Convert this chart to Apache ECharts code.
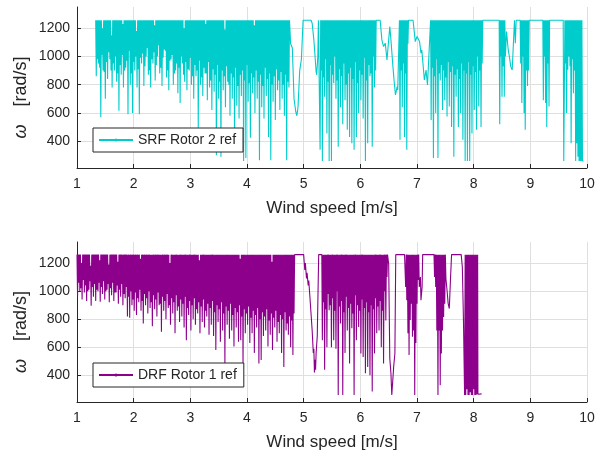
<!DOCTYPE html>
<html><head><meta charset="utf-8">
<script src="https://cdn.jsdelivr.net/npm/echarts@6/dist/echarts.min.js"></script>
<style>html,body{margin:0;padding:0;background:#fff}#c{width:606px;height:456px}</style>
</head><body><div id="c"></div>
<script>
const srfName = 'SRF Rotor 2 ref';
const drfName = 'DRF Rotor 1 ref';
const xLabel = 'Wind speed [m/s]';
const yLabel = '{w|ω}  [rad/s]';

// [wind speed, omega]
const srfData = [
[1.33,1256],[1.34,860],[1.35,1256],[1.36,980],[1.37,1256],[1.38,950],[1.39,1256],[1.40,920],[1.41,1256],[1.42,570],
[1.43,1256],[1.44,1010],[1.45,1200],[1.46,900],[1.47,1256],[1.48,890],[1.49,1256],[1.50,700],[1.51,1256],[1.52,960],
[1.53,1256],[1.54,840],[1.55,1256],[1.56,1030],[1.57,1256],[1.58,980],[1.59,1256],[1.60,900],[1.61,1150],[1.62,780],
[1.63,1256],[1.64,950],[1.65,1256],[1.66,900],[1.67,1256],[1.68,1000],[1.69,1256],[1.70,820],[1.71,1256],[1.72,880],
[1.73,1256],[1.74,615],[1.75,1256],[1.76,940],[1.77,1256],[1.78,870],[1.79,1256],[1.80,1010],[1.81,1230],[1.82,780],
[1.83,1256],[1.84,900],[1.85,1256],[1.86,920],[1.87,1256],[1.88,970],[1.89,1256],[1.90,590],[1.91,1256],[1.92,1040],
[1.93,1256],[1.94,800],[1.95,1256],[1.96,880],[1.97,1256],[1.98,600],[1.99,1256],[2.00,960],[2.01,1256],[2.02,900],
[2.03,1256],[2.04,1000],[2.05,1180],[2.06,780],[2.07,1256],[2.08,910],[2.09,1256],[2.10,590],[2.11,1256],[2.12,990],
[2.13,1256],[2.14,950],[2.15,1256],[2.16,1020],[2.17,1256],[2.18,790],[2.19,1256],[2.20,930],[2.21,1256],[2.22,1000],
[2.23,1256],[2.24,1060],[2.25,1256],[2.26,870],[2.27,1256],[2.28,900],[2.29,1256],[2.30,780],[2.31,1256],[2.32,980],
[2.33,1256],[2.34,950],[2.35,1256],[2.36,1030],[2.37,1220],[2.38,830],[2.39,1256],[2.40,940],[2.41,1256],[2.42,1000],
[2.43,1256],[2.44,1080],[2.45,1256],[2.46,880],[2.47,1256],[2.48,920],[2.49,1256],[2.50,790],[2.51,1256],[2.52,990],
[2.53,1256],[2.54,1050],[2.55,1256],[2.56,1040],[2.57,1256],[2.58,850],[2.59,1256],[2.60,900],[2.61,1256],[2.62,760],
[2.63,1256],[2.64,970],[2.65,1256],[2.66,980],[2.67,1256],[2.68,1010],[2.69,1256],[2.70,800],[2.71,1256],[2.72,880],
[2.73,1256],[2.74,900],[2.75,1256],[2.76,950],[2.77,1256],[2.78,740],[2.79,1256],[2.80,920],[2.81,1256],[2.82,670],
[2.83,1256],[2.84,1000],[2.85,1256],[2.86,950],[2.87,1256],[2.88,870],[2.89,1200],[2.90,820],[2.91,1256],[2.92,960],
[2.93,1256],[2.94,760],[2.95,1256],[2.96,910],[2.97,1256],[2.98,900],[2.99,1256],[3.00,990],[3.01,1256],[3.02,800],
[3.03,1256],[3.04,860],[3.05,1256],[3.06,700],[3.07,1256],[3.08,940],[3.09,1256],[3.10,860],[3.11,1256],[3.12,900],
[3.13,1256],[3.14,495],[3.15,1256],[3.16,970],[3.17,1256],[3.18,800],[3.19,1256],[3.20,850],[3.21,1256],[3.22,720],
[3.23,1256],[3.24,920],[3.25,1256],[3.26,880],[3.27,1230],[3.28,880],[3.29,1256],[3.30,690],[3.31,1256],[3.32,960],
[3.33,1256],[3.34,780],[3.35,1256],[3.36,830],[3.37,1256],[3.38,620],[3.39,1256],[3.40,910],[3.41,1256],[3.42,750],
[3.43,1256],[3.44,870],[3.45,1256],[3.46,300],[3.47,1256],[3.48,940],[3.49,1256],[3.50,700],[3.51,1256],[3.52,820],
[3.53,1256],[3.54,290],[3.55,1256],[3.56,900],[3.57,1256],[3.58,760],[3.59,1256],[3.60,860],[3.61,1190],[3.62,640],
[3.63,1256],[3.64,930],[3.65,1256],[3.66,820],[3.67,1256],[3.68,800],[3.69,1256],[3.70,580],[3.71,1256],[3.72,880],
[3.73,1256],[3.74,700],[3.75,1256],[3.76,850],[3.77,1256],[3.78,430],[3.79,1256],[3.80,920],[3.81,1256],[3.82,650],
[3.83,1256],[3.84,790],[3.85,1256],[3.86,560],[3.87,1256],[3.88,870],[3.89,1256],[3.90,720],[3.91,1256],[3.92,900],
[3.93,1256],[3.94,260],[3.95,1256],[3.96,830],[3.97,1256],[3.98,280],[3.99,1256],[4.00,940],[4.01,1256],[4.02,680],
[4.03,1256],[4.04,810],[4.05,1256],[4.06,425],[4.07,1256],[4.08,880],[4.09,1256],[4.10,740],[4.11,1256],[4.12,850],
[4.13,1220],[4.14,600],[4.15,1256],[4.16,900],[4.17,1256],[4.18,700],[4.19,1256],[4.20,820],[4.21,1256],[4.22,265],
[4.23,1256],[4.24,870],[4.25,1256],[4.26,640],[4.27,1256],[4.28,790],[4.29,1256],[4.30,560],[4.31,1256],[4.32,920],
[4.33,1256],[4.34,720],[4.35,1256],[4.36,840],[4.37,1256],[4.38,430],[4.39,1256],[4.40,880],[4.41,1256],[4.42,265],
[4.43,1256],[4.44,800],[4.45,1256],[4.46,680],[4.47,1256],[4.48,860],[4.49,1256],[4.50,550],[4.51,1256],[4.52,910],
[4.53,1256],[4.54,760],[4.55,1256],[4.56,830],[4.57,1256],[4.58,620],[4.59,1256],[4.60,890],[4.61,1256],[4.62,700],
[4.63,1256],[4.64,800],[4.65,1256],[4.66,580],[4.67,1256],[4.68,870],[4.69,1256],[4.70,265],[4.71,1256],[4.72,820],
[4.73,1256],[4.74,780],[4.75,1256],[4.77,1090],[4.80,1060],[4.83,700],[4.86,610],[4.88,580],[4.90,640],[4.93,900],
[4.96,980],[4.99,1256],[5.13,1256],[5.15,1235],[5.18,1117],[5.21,950],[5.22,890],[5.23,870],[5.25,1000],[5.26,1256],
[5.28,1256],[5.29,340],[5.30,1256],[5.31,900],[5.32,1256],[5.33,260],[5.34,1256],[5.35,850],[5.36,1256],[5.37,715],
[5.38,1256],[5.39,980],[5.40,1256],[5.41,455],[5.42,1256],[5.43,820],[5.44,1256],[5.45,260],[5.46,1256],[5.47,940],
[5.48,1256],[5.49,260],[5.50,1256],[5.51,870],[5.52,1256],[5.53,810],[5.54,1256],[5.55,1000],[5.56,1256],[5.57,700],
[5.58,1256],[5.59,830],[5.60,1256],[5.61,360],[5.62,1256],[5.63,910],[5.64,1256],[5.65,640],[5.66,1256],[5.67,860],
[5.68,1256],[5.69,520],[5.70,1256],[5.71,950],[5.72,1256],[5.73,690],[5.74,1256],[5.75,800],[5.76,1256],[5.77,480],
[5.78,1256],[5.79,880],[5.80,1256],[5.81,430],[5.82,1256],[5.83,920],[5.84,1256],[5.85,385],[5.86,1256],[5.87,840],
[5.88,1256],[5.89,340],[5.90,1256],[5.91,960],[5.92,1256],[5.93,430],[5.94,1256],[5.95,810],[5.96,1256],[5.97,600],
[5.98,1256],[5.99,900],[6.00,1256],[6.01,690],[6.02,1256],[6.03,870],[6.04,1256],[6.05,560],[6.06,1256],[6.07,990],
[6.08,1256],[6.09,260],[6.10,1256],[6.11,830],[6.12,1256],[6.13,385],[6.14,1256],[6.15,940],[6.16,1256],[6.17,860],
[6.18,1256],[6.19,880],[6.20,1256],[6.21,360],[6.22,1256],[6.23,1000],[6.24,1256],[6.25,780],[6.26,1256],[6.27,900],
[6.28,1256],[6.35,1256],[6.38,1117],[6.41,1070],[6.44,1094],[6.47,975],[6.48,964],[6.52,1212],[6.54,1117],[6.575,928],
[6.60,810],[6.62,727],[6.65,786],[6.66,763],[6.69,1256],[6.70,410],[6.71,1256],[6.72,900],[6.73,1256],[6.74,640],
[6.75,1256],[6.76,950],[6.77,1256],[6.78,430],[6.79,1256],[6.80,880],[6.81,1256],[6.82,340],[6.83,1256],[6.84,1090],
[6.85,1256],[6.93,1256],[6.97,1105],[7.00,1141],[7.03,1129],[7.045,1105],
[7.07,1023],[7.085,1046],[7.115,904],[7.13,834],[7.16,904],[7.185,798],[7.24,1256],
[7.25,550],[7.26,1256],[7.27,920],[7.28,1256],[7.29,280],[7.30,1256],[7.31,860],[7.32,1256],[7.33,600],[7.34,1256],
[7.35,980],[7.36,1256],[7.37,280],[7.38,1256],[7.39,880],[7.40,1256],[7.41,830],[7.42,1256],[7.43,940],[7.44,1256],
[7.45,620],[7.46,1256],[7.47,900],[7.48,1256],[7.49,690],[7.50,1256],[7.51,850],[7.52,1256],[7.53,575],[7.54,1256],
[7.55,960],[7.56,1256],[7.57,645],[7.58,1256],[7.59,890],[7.60,1256],[7.61,500],[7.62,1256],[7.63,930],[7.64,1256],
[7.65,290],[7.66,1256],[7.67,870],[7.68,1256],[7.69,715],[7.70,1256],[7.71,910],[7.72,1256],[7.73,500],[7.74,1256],
[7.75,840],[7.76,1256],[7.77,600],[7.78,1256],[7.79,950],[7.80,1256],[7.81,410],[7.82,1256],[7.83,900],[7.84,1256],
[7.85,260],[7.86,1256],[7.87,880],[7.88,1256],[7.89,260],[7.90,1256],[7.91,960],[7.92,1256],[7.93,260],[7.94,1256],
[7.95,870],[7.96,1256],[7.97,455],[7.98,1256],[7.99,930],[8.00,1256],[8.01,620],[8.02,1256],[8.03,890],[8.04,1256],
[8.05,480],[8.06,1256],[8.07,1000],[8.08,1256],[8.09,645],[8.10,1256],[8.11,900],[8.12,1256],[8.13,500],[8.14,1256],
[8.15,950],[8.16,1256],[8.45,1256],
[8.46,520],[8.47,1256],[8.48,1000],[8.49,1256],[8.50,715],[8.51,1256],[8.52,930],[8.53,1256],[8.54,715],[8.55,1256],
[8.56,1000],[8.58,1176],[8.61,1046],[8.63,1000],[8.655,928],[8.68,904],[8.70,916],[8.72,1256],[8.735,1094],[8.75,1256],
[8.82,1256],[8.83,950],[8.84,1256],[8.85,670],[8.86,1256],[8.87,1000],[8.88,1256],[8.89,600],[8.90,1256],[8.91,480],
[8.92,1256],[8.93,900],[8.94,1256],[8.95,790],[8.96,1256],[8.97,900],[8.98,1256],[9.22,1256],[9.23,690],[9.24,1256],
[9.25,1000],[9.26,1256],[9.27,670],[9.28,1256],[9.29,500],[9.30,1256],[9.31,950],[9.32,1256],[9.33,645],[9.34,1256],
[9.58,1256],[9.59,260],[9.60,260],[9.61,1256],[9.62,950],[9.63,1256],[9.64,600],[9.65,1256],[9.66,905],[9.67,1256],
[9.68,1000],[9.69,1256],[9.70,930],[9.71,1256],[9.72,385],[9.73,1256],[9.74,980],[9.75,1256],[9.76,740],[9.77,1256],
[9.78,900],[9.79,1256],[9.80,260],[9.81,1256],[9.82,385],[9.83,1256],[9.84,290],[9.85,1256],[9.86,260],[9.87,1256],
[9.88,260],[9.89,1256],[9.90,260],[9.91,1256],[9.92,260],[9.94,260]
];

const drfData = [
[1.00,1260],[1.01,960],[1.02,1260],[1.03,1060],[1.04,1260],[1.05,1000],[1.06,1260],[1.07,1020],[1.08,1200],[1.09,940],
[1.10,1260],[1.11,1080],[1.12,1260],[1.13,990],[1.14,1260],[1.15,1040],[1.16,1260],[1.17,930],[1.18,1260],[1.19,1000],
[1.20,1260],[1.21,1010],[1.22,1260],[1.23,1070],[1.24,1180],[1.25,895],[1.26,1260],[1.27,1030],[1.28,1260],[1.29,960],
[1.30,1260],[1.31,1050],[1.32,1260],[1.33,930],[1.34,1260],[1.35,1010],[1.36,1260],[1.37,1000],[1.38,1260],[1.39,1060],
[1.40,1220],[1.41,925],[1.42,1260],[1.43,1030],[1.44,1260],[1.45,980],[1.46,1260],[1.47,1070],[1.48,1260],[1.49,940],
[1.50,1260],[1.51,1000],[1.52,1260],[1.53,1010],[1.54,1260],[1.55,1050],[1.56,1190],[1.57,920],[1.58,1260],[1.59,1020],
[1.60,1260],[1.61,970],[1.62,1260],[1.63,1060],[1.64,1260],[1.65,930],[1.66,1260],[1.67,990],[1.68,1260],[1.69,990],
[1.70,1260],[1.71,1040],[1.72,1210],[1.73,910],[1.74,1260],[1.75,1010],[1.76,1260],[1.77,960],[1.78,1260],[1.79,1050],
[1.80,1260],[1.81,900],[1.82,1260],[1.83,980],[1.84,1260],[1.85,950],[1.86,1260],[1.87,1030],[1.88,1260],[1.89,820],
[1.90,1260],[1.91,960],[1.92,1260],[1.93,810],[1.94,1260],[1.95,1000],[1.96,1260],[1.97,900],[1.98,1260],[1.99,940],
[2.00,1260],[2.01,860],[2.02,1260],[2.03,990],[2.04,1260],[2.05,830],[2.06,1260],[2.07,950],[2.08,1260],[2.09,920],
[2.10,1260],[2.11,1010],[2.12,1230],[2.13,860],[2.14,1260],[2.15,930],[2.16,1260],[2.17,770],[2.18,1260],[2.19,980],
[2.20,1260],[2.21,900],[2.22,1260],[2.23,950],[2.24,1260],[2.25,840],[2.26,1260],[2.27,1000],[2.28,1260],[2.29,880],
[2.30,1260],[2.31,920],[2.32,1260],[2.33,750],[2.34,1260],[2.35,970],[2.36,1260],[2.37,870],[2.38,1260],[2.39,940],
[2.40,1260],[2.41,820],[2.42,1260],[2.43,990],[2.44,1260],[2.45,900],[2.46,1260],[2.47,910],[2.48,1260],[2.49,710],
[2.50,1260],[2.51,960],[2.52,1260],[2.53,860],[2.54,1260],[2.55,930],[2.56,1260],[2.57,800],[2.58,1260],[2.59,980],
[2.60,1260],[2.61,880],[2.62,1260],[2.63,900],[2.64,1200],[2.65,760],[2.66,1260],[2.67,950],[2.68,1260],[2.69,840],
[2.70,1260],[2.71,920],[2.72,1260],[2.73,700],[2.74,1260],[2.75,970],[2.76,1260],[2.77,860],[2.78,1260],[2.79,890],
[2.80,1260],[2.81,780],[2.82,1260],[2.83,940],[2.84,1260],[2.85,820],[2.86,1260],[2.87,910],[2.88,1260],[2.89,740],
[2.90,1260],[2.91,960],[2.92,1260],[2.93,650],[2.94,1260],[2.95,880],[2.96,1260],[2.97,830],[2.98,1260],[2.99,930],
[3.00,1260],[3.01,720],[3.02,1260],[3.03,900],[3.04,1260],[3.05,800],[3.06,1260],[3.07,950],[3.08,1260],[3.09,760],
[3.10,1260],[3.11,870],[3.12,1260],[3.13,840],[3.14,1260],[3.15,920],[3.16,1220],[3.17,700],[3.18,1260],[3.19,890],
[3.20,1260],[3.21,780],[3.22,1260],[3.23,940],[3.24,1260],[3.25,740],[3.26,1260],[3.27,860],[3.28,1260],[3.29,820],
[3.30,1260],[3.31,910],[3.32,1260],[3.33,690],[3.34,1260],[3.35,880],[3.36,1260],[3.37,760],[3.38,1260],[3.39,930],
[3.40,1260],[3.41,680],[3.42,1260],[3.43,850],[3.44,1260],[3.45,580],[3.46,1260],[3.47,900],[3.48,1260],[3.49,780],
[3.50,1260],[3.51,870],[3.52,1260],[3.53,640],[3.54,1260],[3.55,920],[3.56,1260],[3.57,720],[3.58,1260],[3.59,840],
[3.60,1260],[3.61,485],[3.62,1260],[3.63,890],[3.64,1260],[3.65,760],[3.66,1260],[3.67,860],[3.68,1260],[3.69,660],
[3.70,1260],[3.71,910],[3.72,1260],[3.73,720],[3.74,1260],[3.75,830],[3.76,1260],[3.77,605],[3.78,1260],[3.79,880],
[3.80,1260],[3.81,740],[3.82,1260],[3.83,850],[3.84,1260],[3.85,640],[3.86,1260],[3.87,900],[3.88,1230],[3.89,650],
[3.90,1260],[3.91,820],[3.92,1260],[3.93,485],[3.94,1260],[3.95,870],[3.96,1260],[3.97,700],[3.98,1260],[3.99,840],
[4.00,1260],[4.01,760],[4.02,1260],[4.03,890],[4.04,1260],[4.05,630],[4.06,1260],[4.07,810],[4.08,1260],[4.09,700],
[4.10,1260],[4.11,860],[4.12,1260],[4.13,560],[4.14,1260],[4.15,830],[4.16,1260],[4.17,740],[4.18,1260],[4.19,880],
[4.20,1260],[4.21,485],[4.22,1260],[4.23,800],[4.24,1260],[4.25,510],[4.26,1260],[4.27,850],[4.28,1260],[4.29,680],
[4.30,1260],[4.31,820],[4.32,1260],[4.33,720],[4.34,1260],[4.35,870],[4.36,1260],[4.37,605],[4.38,1260],[4.39,790],
[4.40,1260],[4.41,690],[4.42,1260],[4.43,840],[4.44,1210],[4.45,580],[4.46,1260],[4.47,810],[4.48,1260],[4.49,740],
[4.50,1260],[4.51,860],[4.52,1260],[4.53,640],[4.54,1260],[4.55,780],[4.56,1260],[4.57,700],[4.58,1260],[4.59,830],
[4.60,1260],[4.61,560],[4.62,1260],[4.63,800],[4.64,1260],[4.65,460],[4.66,1260],[4.67,850],[4.68,1260],[4.69,720],
[4.70,1260],[4.71,770],[4.72,1260],[4.73,690],[4.74,1260],[4.75,820],[4.76,1260],[4.77,600],[4.78,1260],[4.79,790],
[4.80,1260],[4.81,545],[4.82,1260],[4.83,840],[4.84,1260],[5.00,1260],[5.02,1150],[5.03,1200],[5.05,1090],[5.06,1130],
[5.08,1040],[5.09,1075],[5.11,960],[5.13,840],[5.15,720],[5.17,560],[5.18,590],[5.19,420],[5.20,510],[5.21,440],
[5.22,560],[5.24,680],[5.265,1260],
[5.32,1260],[5.33,650],[5.34,1260],[5.35,920],[5.36,1260],[5.37,440],[5.38,1260],[5.39,870],[5.40,1260],[5.41,600],
[5.42,1260],[5.43,980],[5.44,1260],[5.45,864],[5.46,1260],[5.47,900],[5.48,1260],[5.49,600],[5.50,1260],[5.51,950],
[5.52,1260],[5.53,650],[5.54,1260],[5.55,860],[5.56,1260],[5.57,590],[5.58,1260],[5.59,1000],[5.60,1260],[5.61,260],
[5.62,1260],[5.63,890],[5.64,1260],[5.65,770],[5.66,1260],[5.67,930],[5.68,1260],[5.69,260],[5.70,1260],[5.71,850],
[5.72,1260],[5.73,560],[5.74,1260],[5.75,960],[5.76,1260],[5.77,720],[5.78,1260],[5.79,880],[5.80,1260],[5.81,485],
[5.82,1260],[5.83,910],[5.84,1260],[5.85,735],[5.86,1260],[5.87,840],[5.88,1260],[5.89,260],[5.90,1260],[5.91,970],
[5.92,1260],[5.93,650],[5.94,1260],[5.95,900],[5.96,1260],[5.97,745],[5.98,1260],[5.99,860],[6.00,1260],[6.01,556],
[6.02,1260],[6.03,940],[6.04,1260],[6.05,530],[6.06,1260],[6.07,880],[6.08,1260],[6.09,415],[6.10,1260],[6.11,920],
[6.12,1260],[6.13,460],[6.14,1260],[6.15,850],[6.16,1260],[6.17,400],[6.18,1260],[6.19,900],[6.20,1260],[6.21,285],
[6.22,1260],[6.23,870],[6.24,1260],[6.25,556],[6.26,1260],[6.27,950],[6.28,1260],[6.29,700],[6.30,1260],[6.31,890],
[6.32,1260],[6.33,720],[6.34,1260],[6.35,930],[6.36,1260],[6.37,600],[6.38,1260],[6.39,860],[6.40,1260],[6.41,485],
[6.42,1260],[6.43,1000],[6.44,1260],[6.45,790],[6.46,1260],[6.47,1100],[6.48,1260],[6.50,1195],[6.52,520],[6.54,415],
[6.555,260],[6.575,260],[6.59,470],[6.61,556],[6.625,1260],[6.78,1260],
[6.80,1030],[6.81,1260],[6.82,935],[6.83,1260],[6.84,700],[6.85,1260],[6.86,545],[6.87,1260],[6.88,795],[6.89,1260],
[6.90,910],[6.91,1260],[6.92,675],[6.93,1260],[6.94,720],[6.95,1260],[6.96,260],[6.97,1260],[6.98,630],[6.99,1260],
[7.00,910],[7.01,1260],[7.02,1080],[7.03,1260],[7.04,1030],[7.06,1100],[7.07,935],[7.09,1030],[7.10,1260],[7.30,1260],
[7.31,1100],[7.32,1260],[7.33,1030],[7.34,1260],[7.35,720],[7.36,1260],[7.37,260],[7.38,1260],[7.39,720],[7.40,1260],
[7.41,330],[7.42,1260],[7.43,556],[7.44,1260],[7.45,720],[7.46,1260],[7.47,816],[7.48,1260],[7.49,910],[7.50,1260],
[7.51,1090],[7.53,1006],[7.55,911],[7.57,876],[7.59,1077],[7.61,1260],[7.78,1260],
[7.80,1172],[7.82,793],[7.84,260],[7.85,1260],[7.86,260],[7.87,1260],[7.88,300],[7.89,1260],[7.90,260],[7.91,1260],
[7.92,260],[7.93,1260],[7.94,280],[7.95,1260],[7.96,260],[7.97,1260],[7.98,260],[7.99,1260],[8.00,300],[8.01,1260],
[8.02,260],[8.03,1260],[8.04,260],[8.05,1260],[8.06,265],[8.07,1260],[8.075,265],[8.11,270],[8.14,268]
];

const FONT = '"Liberation Sans", Arial, Helvetica, sans-serif';
const AX = '#262626';
const GRIDC = '#DFDFDF';
const LW = 1.1;

function xAxisCfg(i) {
  return {
    gridIndex: i, type: 'value', min: 1, max: 10, interval: 1,
    name: xLabel, nameLocation: 'middle', nameGap: 32,
    nameTextStyle: { fontSize: 17, color: AX, fontFamily: FONT },
    axisLine: { show: true, onZero: false, lineStyle: { color: AX, width: 1 } },
    axisTick: { show: true, inside: true, length: 4, lineStyle: { color: AX } },
    axisLabel: { color: AX, fontSize: 14, margin: 9, fontFamily: FONT },
    splitLine: { show: true, lineStyle: { color: GRIDC, width: 1 } }
  };
}
function yAxisCfg(i) {
  return {
    gridIndex: i, type: 'value', min: 210, max: 1350, splitNumber: 5,
    name: yLabel, nameLocation: 'middle', nameGap: 47, nameRotate: 90, nameMoveOverlap: false,
    nameTextStyle: { fontSize: 18, color: AX, fontFamily: FONT, padding: [0, 20, 0, 0],
      rich: { w: { fontSize: 18, fontStyle: 'italic', color: AX, fontFamily: FONT, padding: [0, 8, 0, 0] } } },
    axisLine: { show: true, lineStyle: { color: AX, width: 1 } },
    axisTick: { show: true, inside: true, length: 4, lineStyle: { color: AX } },
    axisLabel: { color: AX, fontSize: 14, margin: 7, fontFamily: FONT, showMinLabel: false, showMaxLabel: false,
      formatter: function (v) { return String(v); } },
    splitLine: { show: true, showMaxLine: false, showMinLine: false, lineStyle: { color: GRIDC, width: 1 } }
  };
}
function legendCfg(name, top) {
  return {
    data: [name], left: 93, top: top, padding: [5, 7, 5, 5],
    itemWidth: 34, itemHeight: 4, selectedMode: false,
    borderColor: AX, borderWidth: 1, backgroundColor: '#ffffff', z: 20,
    textStyle: { fontSize: 14, color: AX, fontFamily: FONT }
  };
}

const chart = echarts.init(document.getElementById('c'), null, { renderer: 'canvas' });
chart.setOption({
  animation: false,
  backgroundColor: '#ffffff',
  textStyle: { fontFamily: FONT },
  grid: [
    { left: 77, top: 7, width: 510, height: 161 },
    { left: 77, top: 242, width: 510, height: 160 }
  ],
  xAxis: [xAxisCfg(0), xAxisCfg(1)],
  yAxis: [yAxisCfg(0), yAxisCfg(1)],
  legend: [legendCfg(srfName, 128), legendCfg(drfName, 363)],
  series: [
    { type: 'line', name: srfName, xAxisIndex: 0, yAxisIndex: 0, data: srfData,
      symbol: 'none', showSymbol: false, silent: true,
      lineStyle: { width: LW, color: '#00CCCC' }, itemStyle: { color: '#00CCCC' } },
    { type: 'line', name: drfName, xAxisIndex: 1, yAxisIndex: 1, data: drfData,
      symbol: 'none', showSymbol: false, silent: true,
      lineStyle: { width: LW, color: '#8C008C' }, itemStyle: { color: '#8C008C' } }
  ]
});
</script></body></html>
